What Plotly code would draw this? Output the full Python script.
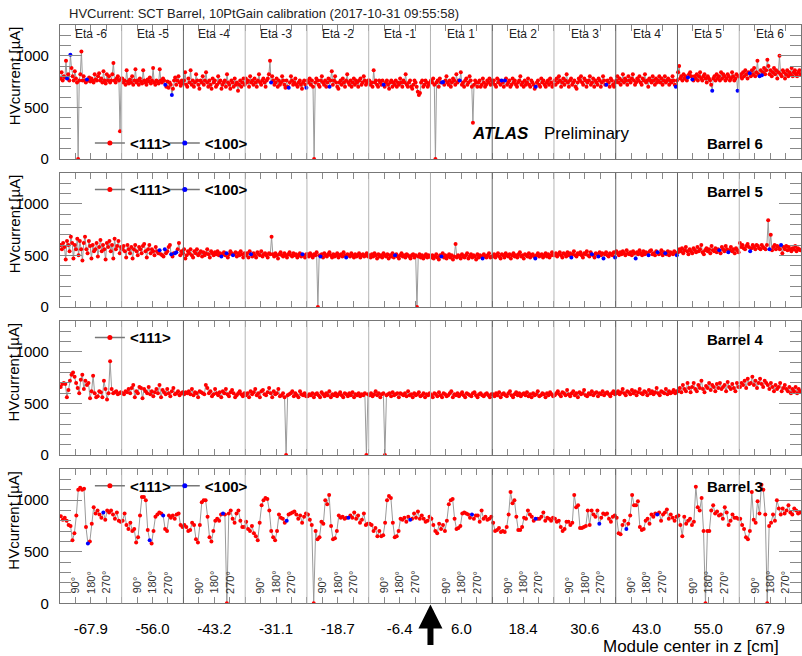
import plotly.graph_objects as go

W, H = 802, 656

# ---------------- data ----------------
ETA_LABELS = ["Eta -6", "Eta -5", "Eta -4", "Eta -3", "Eta -2", "Eta -1",
              "Eta 1", "Eta 2", "Eta 3", "Eta 4", "Eta 5", "Eta 6"]
Z_LABELS = ["-67.9", "-56.0", "-43.2", "-31.1", "-18.7", "-6.4",
            "6.0", "18.4", "30.6", "43.0", "55.0", "67.9"]
PHI_LABELS = ["90°", "180°", "270°"]

# Barrel 6 : HV current [uA] per module, one list per eta ring
B6 = [
    [780, 840, 760, 800, 790, 950, 780, 820, 760, 1010, 880, 800, 760, 850, 780, 740, 0, 760, 820, 1040,
     760, 800, 760, 740, 770, 760, 790, 750, 780, 760, 740, 820, 770, 760, 800, 830, 760, 780, 740, 850,
     760, 730, 820, 760, 800, 740, 760, 820, 930, 760, 740, 780, 800, 760, 270, 780],
    [780, 740, 760, 720, 860, 750, 730, 770, 740, 800, 720, 760, 870, 740, 760, 720, 780, 750, 730, 860,
     760, 740, 720, 770, 750, 790, 730, 760, 880, 740, 720, 760, 750, 730, 870, 760, 740, 780, 760, 720,
     700, 750, 690, 740, 720, 620, 680, 760, 790, 720, 760, 800, 740, 710, 760, 730],
    [760, 840, 720, 700, 780, 740, 860, 720, 760, 700, 740, 820, 760, 720, 680, 760, 740, 800, 720, 760,
     840, 740, 700, 760, 720, 680, 780, 740, 760, 700, 720, 800, 740, 760, 680, 720, 740, 760, 700, 820,
     740, 720, 680, 760, 740, 700, 780, 720, 740, 660, 720, 760, 700, 740, 780, 720],
    [780, 740, 760, 700, 800, 740, 760, 720, 780, 740, 700, 760, 820, 740, 720, 760, 780, 740, 700, 760,
     780, 820, 950, 740, 800, 760, 720, 740, 780, 700, 760, 720, 740, 800, 760, 720, 690, 760, 700, 690,
     740, 800, 760, 720, 740, 780, 720, 700, 740, 760, 720, 680, 740, 760, 720, 690],
    [760, 740, 780, 720, 760, 700, 0, 740, 780, 760, 720, 700, 760, 800, 740, 720, 760, 700, 740, 780,
     700, 760, 850, 720, 760, 800, 740, 700, 680, 740, 760, 720, 780, 740, 700, 760, 820, 740, 720, 760,
     700, 740, 780, 720, 760, 740, 700, 760, 780, 720, 740, 800, 760, 720, 740, 760],
    [760, 720, 740, 700, 860, 740, 760, 720, 700, 760, 740, 720, 760, 720, 700, 740, 760, 720, 680, 740,
     760, 700, 740, 720, 760, 700, 740, 720, 780, 740, 700, 760, 740, 820, 720, 700, 740, 760, 700, 680,
     720, 760, 740, 700, 650, 620, 640, 740, 760, 700, 720, 760, 740, 700, 720, 740],
    [760, 740, 780, 720, 0, 740, 760, 700, 780, 740, 740, 745, 720, 760, 800, 740, 720, 760, 700, 740,
     780, 760, 720, 820, 740, 760, 760, 840, 720, 740, 700, 760, 780, 720, 740, 800, 760, 700, 350, 720,
     760, 740, 700, 740, 760, 700, 720, 780, 740, 700, 720, 760, 740, 780, 720, 760],
    [740, 760, 720, 700, 780, 740, 760, 720, 760, 740, 700, 760, 780, 720, 740, 760, 700, 720, 780, 740,
     760, 720, 700, 740, 760, 800, 720, 740, 700, 760, 720, 740, 780, 720, 700, 760, 740, 720, 680, 700,
     740, 760, 720, 700, 780, 740, 760, 720, 700, 740, 760, 720, 780, 740, 700, 720],
    [760, 720, 780, 740, 800, 760, 700, 740, 780, 720, 760, 820, 740, 700, 760, 780, 720, 740, 760, 700,
     680, 740, 780, 760, 800, 740, 720, 780, 760, 700, 740, 760, 800, 720, 740, 780, 700, 760, 740, 720,
     780, 760, 700, 740, 800, 760, 720, 720, 760, 740, 700, 780, 760, 720, 700, 740],
    [760, 800, 740, 780, 720, 760, 820, 740, 780, 760, 720, 800, 760, 740, 780, 820, 760, 720, 740, 780,
     760, 800, 740, 720, 780, 760, 820, 740, 760, 700, 780, 760, 740, 800, 760, 720, 780, 740, 760, 800,
     740, 780, 720, 760, 800, 740, 760, 780, 720, 760, 740, 800, 760, 720, 700, 760],
    [840, 900, 780, 800, 760, 820, 780, 800, 760, 790, 820, 840, 800, 770, 760, 800, 780, 820, 760, 800,
     840, 780, 760, 800, 820, 780, 740, 800, 780, 760, 720, 660, 780, 800, 760, 820, 780, 800, 760, 840,
     780, 820, 800, 760, 780, 820, 800, 760, 780, 840, 800, 760, 780, 820, 660, 800],
    [800, 820, 780, 840, 800, 860, 820, 780, 840, 830, 800, 860, 820, 880, 800, 840, 950, 820, 800, 860,
     810, 840, 880, 820, 860, 960, 900, 820, 860, 800, 840, 880, 820, 860, 780, 840, 1000, 820, 800, 860,
     840, 780, 820, 860, 800, 840, 820, 880, 800, 840, 860, 820, 800, 840, 860, 820],
]
B6_100 = [[6, 9, 24], [39, 45], [], [23, 39, 55], [20], [13], [10, 11, 26], [8, 11, 39],
          [47], [54], [9, 13, 31, 54], [9, 18, 20]]

# Barrel 5
B5 = [
    [600, 560, 620, 580, 460, 640, 600, 540, 680, 620, 470, 600, 560, 660, 500, 640, 560, 450, 620, 680,
     560, 520, 640, 590, 470, 600, 540, 560, 620, 490, 580, 650, 540, 600, 560, 460, 620, 580, 640, 540,
     600, 470, 660, 560, 590, 640, 520, 580],
    [560, 590, 540, 480, 600, 560, 520, 580, 470, 560, 600, 540, 500, 580, 560, 520, 590, 610, 540, 480,
     560, 600, 520, 560, 540, 500, 580, 540, 520, 550, 510, 500, 490, 560, 520, 540, 580, 600, 510, 490,
     520, 520, 530, 560, 620, 500, 540, 520],
    [560, 470, 500, 540, 520, 560, 500, 480, 540, 520, 560, 500, 520, 540, 490, 530, 500, 520, 560, 510,
     480, 540, 520, 500, 530, 510, 540, 500, 520, 490, 510, 530, 500, 520, 480, 510, 540, 520, 500, 510,
     530, 490, 520, 500, 540, 510, 480, 520],
    [500, 520, 480, 540, 510, 490, 520, 500, 480, 530, 510, 500, 540, 490, 510, 520, 500, 480, 520, 510,
     680, 510, 490, 520, 500, 470, 510, 530, 500, 490, 520, 500, 480, 510, 530, 500, 490, 520, 500, 510,
     480, 500, 520, 490, 510, 500, 480, 510],
    [510, 490, 520, 500, 480, 510, 500, 530, 0, 500, 490, 510, 480, 520, 500, 490, 510, 530, 500, 480,
     510, 490, 500, 520, 480, 500, 510, 490, 530, 500, 480, 510, 500, 490, 520, 500, 480, 510, 490, 500,
     520, 480, 500, 510, 490, 500, 520, 490],
    [500, 480, 510, 490, 520, 500, 470, 510, 490, 500, 480, 520, 500, 490, 510, 470, 500, 490, 520, 480,
     500, 510, 490, 470, 500, 520, 490, 500, 480, 510, 500, 490, 470, 500, 510, 480, 500, 0, 490, 510,
     480, 500, 470, 490, 510, 480, 500, 490],
    [480, 500, 470, 490, 510, 480, 460, 500, 490, 520, 480, 500, 470, 490, 510, 480, 500, 460, 490, 610,
     480, 500, 490, 470, 510, 490, 480, 500, 520, 470, 490, 510, 480, 500, 490, 460, 510, 480, 500, 490,
     470, 510, 490, 480, 500, 520, 480, 490],
    [490, 510, 480, 500, 520, 490, 470, 510, 500, 480, 520, 500, 490, 510, 470, 500, 520, 490, 500, 480,
     510, 530, 490, 500, 470, 510, 500, 490, 520, 480, 500, 510, 490, 470, 500, 520, 490, 500, 510, 480,
     500, 520, 490, 510, 480, 500, 530, 500],
    [500, 520, 490, 510, 530, 500, 480, 520, 510, 490, 530, 500, 520, 480, 510, 540, 500, 490, 520, 510,
     530, 500, 480, 520, 510, 540, 500, 490, 530, 510, 500, 480, 520, 510, 490, 530, 500, 520, 470, 510,
     530, 500, 490, 520, 510, 500, 530, 480],
    [540, 520, 500, 530, 510, 540, 520, 500, 550, 520, 510, 530, 500, 540, 520, 470, 530, 510, 550, 520,
     500, 540, 510, 530, 520, 500, 540, 550, 510, 520, 500, 540, 530, 510, 520, 550, 500, 530, 520, 510,
     540, 500, 530, 520, 510, 540, 520, 500],
    [530, 560, 540, 570, 520, 550, 580, 540, 510, 560, 540, 520, 570, 550, 530, 580, 540, 560, 600, 530,
     510, 550, 570, 540, 560, 520, 590, 550, 540, 570, 530, 560, 550, 520, 580, 560, 540, 590, 560, 530,
     550, 580, 540, 560, 520, 570, 550, 530],
    [620, 580, 600, 570, 560, 590, 610, 580, 540, 570, 600, 580, 560, 600, 590, 570, 560, 600, 580, 570,
     560, 600, 840, 560, 700, 550, 580, 600, 560, 590, 580, 560, 600, 520, 580, 560, 590, 550, 580, 560,
     540, 570, 560, 590, 540, 570, 560, 550],
]
B5_100 = [[], [29, 33, 38, 41, 42], [29, 33, 38], [4, 44], [10, 30], [20], [8, 40], [33],
          [13, 29, 34, 38, 47], [15, 25, 32, 38, 47], [32, 39], [8, 23, 32]]

# Barrel 4
B4 = [
    [660, 690, 700, 690, 560, 630, 720, 780, 800, 760, 700, 650, 600, 730, 780, 640, 720, 680, 700, 550,
     620, 770, 600, 560, 570, 620, 610, 560, 720, 640, 540, 600, 910, 640, 600, 610, 620, 590, 600, 610],
    [600, 590, 620, 610, 640, 600, 650, 680, 560, 620, 600, 660, 650, 550, 640, 620, 600, 660, 590, 620,
     570, 610, 640, 600, 680, 560, 630, 610, 590, 640, 600, 570, 620, 650, 590, 600, 620, 580, 600, 610],
    [590, 610, 600, 620, 590, 640, 580, 610, 600, 560, 620, 610, 600, 590, 680, 650, 600, 620, 570, 590,
     640, 600, 580, 610, 560, 620, 600, 640, 590, 570, 610, 630, 600, 560, 580, 600, 620, 590, 570, 600],
    [580, 600, 560, 620, 590, 610, 640, 580, 600, 560, 620, 630, 590, 580, 610, 650, 600, 560, 620, 590,
     600, 640, 570, 580, 600, 560, 0, 580, 590, 600, 620, 570, 600, 580, 560, 620, 590, 580, 600, 570],
    [570, 590, 580, 600, 560, 590, 600, 580, 560, 610, 590, 570, 600, 580, 620, 560, 590, 580, 600, 570,
     590, 610, 580, 560, 600, 590, 570, 600, 580, 610, 560, 590, 580, 600, 570, 590, 580, 600, 0, 590],
    [580, 600, 570, 590, 620, 580, 600, 560, 590, 600, 0, 580, 590, 600, 570, 610, 580, 590, 600, 560,
     600, 590, 580, 600, 570, 620, 580, 590, 560, 600, 580, 590, 610, 570, 580, 600, 560, 590, 580, 600],
    [580, 560, 600, 590, 570, 610, 580, 560, 600, 590, 570, 580, 600, 620, 560, 590, 580, 600, 570, 590,
     610, 580, 560, 600, 590, 580, 570, 600, 610, 580, 560, 590, 600, 580, 570, 590, 600, 580, 560, 590],
    [590, 570, 600, 580, 610, 560, 590, 600, 580, 570, 600, 620, 580, 560, 590, 610, 580, 600, 570, 590,
     600, 580, 610, 570, 590, 560, 600, 580, 590, 620, 570, 580, 600, 590, 560, 600, 580, 610, 590, 570],
    [580, 600, 620, 590, 570, 610, 600, 580, 630, 590, 570, 600, 620, 580, 600, 560, 610, 590, 600, 630,
     580, 570, 600, 590, 620, 580, 600, 610, 570, 600, 590, 620, 580, 600, 610, 590, 570, 600, 620, 590],
    [600, 620, 590, 610, 640, 600, 580, 620, 610, 590, 630, 600, 620, 580, 610, 640, 600, 590, 620, 610,
     580, 630, 600, 620, 590, 610, 650, 600, 580, 620, 610, 600, 640, 590, 620, 600, 610, 630, 600, 620],
    [620, 650, 610, 680, 640, 620, 700, 650, 610, 660, 700, 640, 620, 680, 650, 720, 640, 610, 670, 650,
     700, 630, 680, 660, 620, 690, 650, 700, 640, 660, 680, 620, 710, 660, 640, 690, 650, 620, 700, 660],
    [660, 700, 680, 720, 650, 740, 690, 700, 760, 680, 720, 650, 700, 740, 690, 660, 720, 700, 680, 640,
     700, 660, 620, 680, 640, 660, 700, 620, 650, 680, 640, 620, 660, 600, 640, 620, 660, 600, 640, 620],
]
B4_100 = [[] for _ in range(12)]

# Barrel 3
B3 = [
    [845, 810, 830, 800, 760, 750, 610, 680, 850, 1100, 1120, 1100, 1110, 740, 580, 600, 770, 930, 870, 900,
     860, 830, 880, 810, 900, 880, 900, 860, 820, 880, 800, 790],
    [800, 870, 760, 720, 780, 700, 720, 590, 640, 850, 1030, 1030, 1000, 710, 610, 580, 700, 840, 860, 880,
     870, 850, 720, 700, 850, 830, 850, 820, 860, 870, 760, 740],
    [760, 740, 700, 710, 780, 760, 620, 590, 760, 980, 1000, 1000, 840, 640, 600, 700, 800, 820, 800, 860,
     870, 860, 0, 870, 900, 820, 780, 870, 900, 800, 740, 740],
    [790, 720, 700, 750, 680, 650, 610, 780, 950, 1000, 1020, 1010, 900, 700, 640, 610, 700, 860, 830, 820,
     780, 800, 860, 870, 880, 890, 860, 820, 850, 780, 840, 870],
    [860, 810, 760, 0, 700, 620, 640, 790, 770, 1000, 960, 1050, 750, 620, 630, 700, 850, 830, 840, 820,
     830, 830, 850, 830, 880, 820, 850, 780, 810, 870, 760, 770],
    [770, 760, 700, 730, 650, 700, 650, 660, 780, 1000, 1040, 1020, 780, 640, 650, 700, 820, 810, 830, 790,
     840, 810, 820, 870, 830, 890, 820, 850, 820, 790, 800, 840],
    [820, 760, 700, 680, 770, 720, 760, 700, 800, 960, 1000, 1010, 820, 720, 730, 750, 870, 880, 870, 860,
     830, 860, 820, 850, 850, 790, 900, 820, 840, 810, 820, 840],
    [780, 700, 710, 730, 690, 700, 690, 740, 860, 1080, 970, 1000, 840, 710, 710, 740, 830, 820, 900, 860,
     840, 800, 820, 820, 820, 840, 880, 800, 830, 820, 800, 830],
    [820, 790, 800, 740, 700, 720, 790, 790, 760, 780, 1050, 930, 950, 730, 730, 740, 750, 900, 760, 900,
     860, 840, 900, 770, 830, 870, 860, 870, 820, 790, 840, 850],
    [830, 680, 670, 760, 800, 720, 770, 850, 1050, 950, 950, 990, 740, 710, 720, 800, 820, 770, 860, 840,
     870, 860, 880, 800, 860, 880, 910, 820, 860, 830, 800, 840],
    [850, 760, 650, 840, 770, 800, 820, 760, 790, 1130, 930, 900, 1020, 700, 0, 700, 700, 900, 950, 870,
     890, 850, 860, 820, 930, 880, 760, 800, 860, 830, 830, 820],
    [820, 760, 720, 640, 620, 700, 1080, 810, 780, 990, 870, 1150, 1100, 860, 0, 750, 780, 860, 800, 1000,
     920, 860, 920, 870, 900, 950, 880, 860, 920, 900, 870, 880],
]
B3_100 = [[14, 22], [14, 21], [20], [21], [21], [21], [21], [22], [23], [5, 21], [], []]

# ---------------- layout helpers ----------------
def fx(p):
    return p / W


def fy(p):
    return 1 - p / H


FONT = "Liberation Sans, Arial, sans-serif"
NARROW = "Liberation Sans Narrow, Arial Narrow, Liberation Sans, Arial, sans-serif"
RED, BLUE, LINE = "#ff0000", "#0000ff", "#9a9a9a"

# (data, <100> indices, top px, bottom px, barrel label, label y, legend y, show <100> legend)
panels = [
    (B6, B6_100, 25, 161, "Barrel 6", 143, 145, True),
    (B5, B5_100, 175, 310.7, "Barrel 5", 192, 192, True),
    (B4, B4_100, 325, 460.7, "Barrel 4", 342, 342, False),
    (B3, B3_100, 475, 610.7, "Barrel 3", 491, 492, True),
]

fig = go.Figure()
annotations = []
shapes = []
layout = {}


def legend_box(x_px, y_px):
    return dict(orientation="h", x=fx(x_px), xanchor="left", y=fy(y_px), yanchor="middle",
                bgcolor="rgba(0,0,0,0)", font=dict(family=FONT, size=15, color="black", weight="bold"),
                itemwidth=30)


for p, (data, idx100, top, bot, blabel, bly, legy, show100) in enumerate(panels):
    n = p + 1
    xs = "x" if n == 1 else f"x{n}"
    ys = "y" if n == 1 else f"y{n}"
    leg_a = "legend" if n == 1 else f"legend{2 * n - 1}"
    leg_b = f"legend{2 * n}"

    allx, ally, rx, ry, bx, by = [], [], [], [], [], []
    for k, seg in enumerate(data):
        m = len(seg)
        for j, v in enumerate(seg):
            xv = k + (j + 0.5) / m
            allx.append(xv)
            ally.append(v)
            if j in idx100[k]:
                bx.append(xv)
                by.append(v)
            else:
                rx.append(xv)
                ry.append(v)

    fig.add_trace(go.Scatter(x=allx, y=ally, mode="lines", line=dict(color=LINE, width=1),
                             xaxis=xs, yaxis=ys, showlegend=False, hoverinfo="skip"))
    fig.add_trace(go.Scatter(x=rx, y=ry, mode="markers", marker=dict(color=RED, size=4),
                             xaxis=xs, yaxis=ys, showlegend=False))
    if bx:
        fig.add_trace(go.Scatter(x=bx, y=by, mode="markers", marker=dict(color=BLUE, size=4),
                                 xaxis=xs, yaxis=ys, showlegend=False))
    # legend entries
    fig.add_trace(go.Scatter(x=[None], y=[None], mode="lines+markers", name="&lt;111&gt;",
                             line=dict(color="#777777", width=1.5), marker=dict(color=RED, size=5),
                             xaxis=xs, yaxis=ys, legend=leg_a))
    layout[leg_a] = legend_box(90, legy)
    if show100:
        fig.add_trace(go.Scatter(x=[None], y=[None], mode="lines+markers", name="&lt;100&gt;",
                                 line=dict(color="#777777", width=1.5), marker=dict(color=BLUE, size=5),
                                 xaxis=xs, yaxis=ys, legend=leg_b))
        layout[leg_b] = legend_box(165, legy)

    xkey = "xaxis" if n == 1 else f"xaxis{n}"
    ykey = "yaxis" if n == 1 else f"yaxis{n}"
    last = (n == 4)
    layout[xkey] = dict(domain=[fx(60), 1.0], range=[0, 12], anchor=ys,
                        showgrid=False, zeroline=False, showline=True, linecolor="#777777", linewidth=1,
                        mirror="allticks", ticks="inside", ticklen=6, tickcolor="#888888",
                        tickvals=[k + 0.5 for k in range(12)], ticktext=Z_LABELS,
                        showticklabels=last, tickfont=dict(family=FONT, size=15, color="black"),
                        ticklabelstandoff=12,
                        minor=dict(dtick=0.25, tick0=0, ticks="inside", ticklen=6, tickcolor="#888888"))
    layout[ykey] = dict(domain=[fy(bot), fy(top)], range=[0, 1300], anchor=xs,
                        showgrid=False, zeroline=False, showline=True, linecolor="#777777", linewidth=1,
                        mirror="allticks", ticks="inside", ticklen=22, tickcolor="#888888",
                        tickvals=[0, 500, 1000], tickfont=dict(family=NARROW, size=15, color="black"),
                        ticklabelstandoff=7,
                        minor=dict(dtick=100, tick0=0, ticks="inside", ticklen=11, tickcolor="#888888"))

    # eta boundaries
    for k in range(1, 12):
        dark = k in (2, 7, 9, 10)
        shapes.append(dict(type="line", xref=xs, yref=f"{ys} domain", x0=k, x1=k, y0=0, y1=1,
                           line=dict(color="#666666" if dark else "#b4b4b4", width=1)))

    # y title
    annotations.append(dict(text="HVcurrent [µA]", textangle=-90, xref="paper", yref="paper",
                            x=fx(14), y=fy(top - 1), xanchor="center", yanchor="top", showarrow=False,
                            font=dict(family=FONT, size=15, color="black")))
    # barrel label
    annotations.append(dict(text=f"<b>{blabel}</b>", xref="paper", yref="paper", x=fx(736), y=fy(bly + 2),
                            xanchor="center", yanchor="middle", showarrow=False,
                            font=dict(family=FONT, size=15, color="black")))

# eta labels in top panel
for k, lab in enumerate(ETA_LABELS):
    annotations.append(dict(text=lab, xref="x", yref="paper", x=k + 0.5, y=fy(34), xanchor="center",
                            yanchor="middle", showarrow=False, font=dict(family=FONT, size=12, color="#222222")))

# phi labels in bottom panel
for k in range(12):
    for q, lab in enumerate(PHI_LABELS):
        annotations.append(dict(text=lab, textangle=-90, xref="x4", yref="paper", x=k + 0.25 * (q + 1),
                                y=fy(603), xanchor="center", yanchor="bottom", showarrow=False,
                                font=dict(family=FONT, size=11, color="#333333")))

# title, ATLAS, axis title, arrow
annotations += [
    dict(text="HVCurrent: SCT Barrel, 10PtGain calibration (2017-10-31 09:55:58)", xref="paper", yref="paper",
         x=fx(67), y=fy(14), xanchor="left", yanchor="middle", showarrow=False,
         font=dict(family=FONT, size=13, color="#222222")),
    dict(text="<b><i>ATLAS</i></b>", xref="paper", yref="paper", x=fx(471), y=fy(135), xanchor="left",
         yanchor="middle", showarrow=False, font=dict(family=FONT, size=17, color="black")),
    dict(text="Preliminary", xref="paper", yref="paper", x=fx(543), y=fy(135), xanchor="left",
         yanchor="middle", showarrow=False, font=dict(family=FONT, size=17, color="black")),
    dict(text="Module center in z [cm]", xref="paper", yref="paper", x=fx(782), y=fy(654), xanchor="right",
         yanchor="middle", showarrow=False, font=dict(family=FONT, size=17, color="black")),
    dict(text="", xref="x4", yref="paper", x=6, y=fy(612), showarrow=True, ax=0, ay=42,
         arrowhead=2, arrowsize=0.8, arrowwidth=6, arrowcolor="black"),
]

fig.update_layout(width=W, height=H, margin=dict(l=0, r=0, t=0, b=0),
                  paper_bgcolor="white", plot_bgcolor="white", showlegend=True,
                  annotations=annotations, shapes=shapes, font=dict(family=FONT), **layout)

fig.write_html("out.html", config={"displayModeBar": False},
               post_script="document.body.style.margin='0px';")
